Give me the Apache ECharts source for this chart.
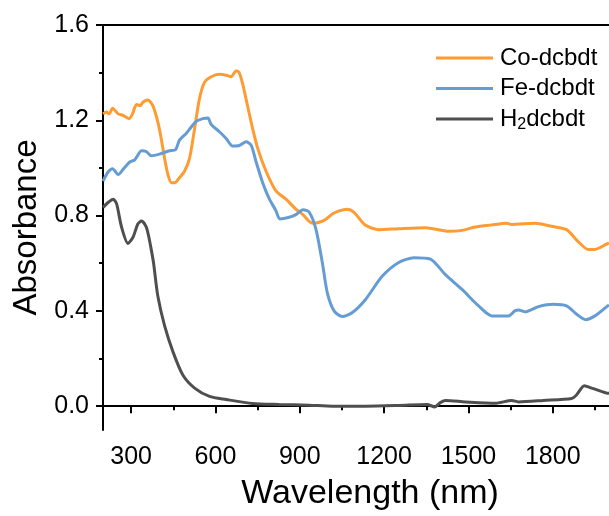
<!DOCTYPE html>
<html>
<head>
<meta charset="utf-8">
<script src="https://cdn.jsdelivr.net/npm/echarts@6/dist/echarts.min.js"></script>
<style>html,body{margin:0;padding:0;background:#fff}#c{width:609px;height:516px}</style>
</head>
<body>
<div id="c"></div>
<script>
// ---- data ----
var seriesNames = ['Co-dcbdt', 'Fe-dcbdt', 'H2dcbdt'];
var xTickLabels = [300, 600, 900, 1200, 1500, 1800];
var xMinorTicks = [450, 750, 1050, 1350, 1650, 1950];
var yTickLabels = [0, 0.4, 0.8, 1.2, 1.6];
var yMinorTicks = [0.2, 0.6, 1.0, 1.4];

var coX = [200,212,222,234,254,271,293,305,319,333,342,360,378,395,407,419,431,443,455,472,490,508,526,543,561,585,614,638,656,673,683,697,714,732,750,780,815,851,886,910,945,969,993,1016,1040,1069,1093,1134,1182,1252,1347,1430,1477,1524,1583,1637,1654,1737,1796,1849,1891,1926,1950,1991,2000];
var coY = [1.227,1.235,1.227,1.251,1.227,1.221,1.207,1.227,1.266,1.262,1.276,1.285,1.259,1.193,1.124,1.041,0.972,0.938,0.938,0.959,0.986,1.041,1.166,1.290,1.359,1.383,1.393,1.389,1.383,1.407,1.403,1.352,1.262,1.166,1.083,0.986,0.904,0.869,0.827,0.805,0.768,0.772,0.785,0.807,0.820,0.827,0.814,0.759,0.741,0.745,0.749,0.734,0.738,0.752,0.761,0.768,0.763,0.768,0.755,0.741,0.690,0.658,0.658,0.680,0.686];

var feX = [200,218,234,254,271,295,313,337,354,372,401,437,458,472,496,514,532,555,573,585,614,638,661,685,709,727,744,768,792,815,829,862,886,912,933,957,981,998,1022,1051,1087,1134,1193,1252,1306,1365,1418,1477,1536,1583,1643,1665,1678,1702,1749,1802,1849,1885,1917,1950,1991,2000];
var feY = [0.945,0.983,0.997,0.972,0.993,1.025,1.034,1.072,1.069,1.051,1.058,1.072,1.076,1.117,1.145,1.172,1.196,1.207,1.210,1.182,1.152,1.124,1.092,1.094,1.110,1.096,1.028,0.938,0.869,0.821,0.786,0.793,0.804,0.825,0.815,0.745,0.597,0.476,0.400,0.376,0.393,0.448,0.545,0.603,0.623,0.617,0.552,0.490,0.421,0.379,0.379,0.400,0.404,0.396,0.418,0.428,0.421,0.386,0.363,0.379,0.417,0.425];

var h2X = [200,218,236,248,266,289,307,324,337,354,363,372,380,395,419,449,484,526,579,638,732,827,933,1016,1134,1252,1353,1380,1400,1418,1489,1595,1654,1678,1767,1867,1885,1912,1938,1991,2000];
var h2Y = [0.834,0.855,0.869,0.851,0.752,0.683,0.710,0.765,0.777,0.752,0.710,0.655,0.600,0.462,0.338,0.228,0.131,0.076,0.041,0.028,0.011,0.007,0.004,0.000,0.000,0.003,0.007,-0.003,0.015,0.024,0.018,0.012,0.024,0.018,0.024,0.032,0.048,0.086,0.076,0.055,0.054];

var colors = ['#FF9B33', '#649CD3', '#4F4F4F'];

function pairs(xs, ys) { return xs.map(function (x, i) { return [x, ys[i]]; }); }

var FONT = "'Liberation Sans', Arial, sans-serif";
var chart = echarts.init(document.getElementById('c'), null, { renderer: 'canvas' });

var axisLine = { show: true, lineStyle: { color: '#000', width: 2 } };

var option = {
  animation: false,
  backgroundColor: '#fff',
  grid: { left: 103, right: -2, top: 25, bottom: 82, containLabel: false },
  legend: {
    orient: 'vertical',
    left: 431,
    top: 39,
    icon: 'rect',
    itemWidth: 57,
    itemHeight: 3,
    itemGap: 2.5,
    data: seriesNames,
    formatter: function (n) { return n === 'H2dcbdt' ? 'H{sub|2}dcbdt' : n; },
    textStyle: {
      fontFamily: FONT, fontSize: 24, color: '#000', lineHeight: 28, padding: [0, 0, 0, 2],
      rich: { sub: { fontFamily: FONT, fontSize: 16, lineHeight: 10, verticalAlign: 'bottom', color: '#000' } }
    }
  },
  xAxis: [
    {
      type: 'value', min: 200, max: 2000, position: 'bottom',
      axisLine: axisLine,
      axisTick: { show: true, customValues: xTickLabels, length: 7, lineStyle: { color: '#000', width: 2 } },
      axisLabel: { customValues: xTickLabels, fontFamily: FONT, fontSize: 25, color: '#000', margin: 15,
        formatter: function (v) { return String(v); } },
      splitLine: { show: false },
      name: 'Wavelength (nm)', nameLocation: 'middle', nameGap: 47,
      nameTextStyle: { fontFamily: FONT, fontSize: 34, color: '#000', padding: [0, 0, 0, 28] }
    },
    {
      type: 'value', min: 200, max: 2000, position: 'bottom',
      axisLine: { show: false },
      axisTick: { show: true, customValues: xMinorTicks, length: 4, lineStyle: { color: '#000', width: 2 } },
      axisLabel: { show: false }, splitLine: { show: false }
    },
    {
      type: 'value', min: 200, max: 2000, position: 'top',
      axisLine: axisLine, axisTick: { show: false }, axisLabel: { show: false }, splitLine: { show: false }
    }
  ],
  yAxis: [
    {
      type: 'value', min: -0.1, max: 1.6, position: 'left',
      axisLine: axisLine,
      axisTick: { show: true, customValues: yTickLabels, length: 7, lineStyle: { color: '#000', width: 2 } },
      axisLabel: { customValues: yTickLabels, fontFamily: FONT, fontSize: 25, color: '#000', margin: 14,
        formatter: function (v) { return v.toFixed(1); } },
      splitLine: { show: false },
      name: 'Absorbance', nameLocation: 'middle', nameGap: 59, nameRotate: 90,
      nameTextStyle: { fontFamily: FONT, fontSize: 33, color: '#000' }
    },
    {
      type: 'value', min: -0.1, max: 1.6, position: 'left',
      axisLine: { show: false },
      axisTick: { show: true, customValues: yMinorTicks, length: 4, lineStyle: { color: '#000', width: 2 } },
      axisLabel: { show: false }, splitLine: { show: false }
    }
  ],
  series: [
    { name: seriesNames[0], type: 'line', data: pairs(coX, coY), color: colors[0] },
    { name: seriesNames[1], type: 'line', data: pairs(feX, feY), color: colors[1] },
    { name: seriesNames[2], type: 'line', data: pairs(h2X, h2Y), color: colors[2] }
  ].map(function (s) {
    s.symbol = 'none'; s.showSymbol = false; s.smooth = 0.25;
    s.lineStyle = { width: 3, color: s.color }; s.itemStyle = { color: s.color };
    s.xAxisIndex = 0; s.yAxisIndex = 0;
    return s;
  })
};
chart.setOption(option);
</script>
</body>
</html>
